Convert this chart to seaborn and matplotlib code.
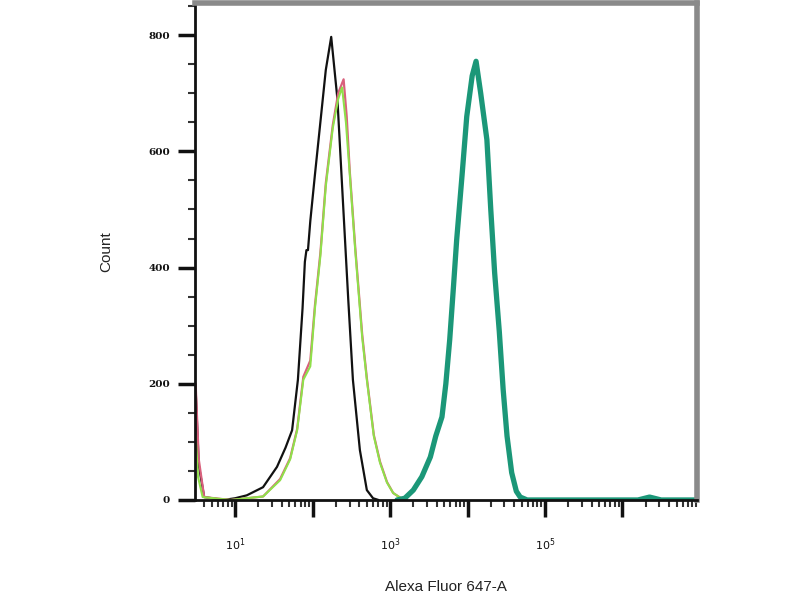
import numpy as np
import pandas as pd
import seaborn as sns
import matplotlib.pyplot as plt
from matplotlib.ticker import FixedLocator, NullFormatter

# Histogram curves: log10(intensity) and count
black_log = [0.49, 0.53, 0.60, 0.85, 1.00, 1.15, 1.36, 1.54, 1.65, 1.735, 1.81, 1.87, 1.90, 1.92,
             1.94, 1.97, 2.03, 2.10, 2.17, 2.24, 2.32, 2.39, 2.46, 2.52, 2.61, 2.70, 2.78, 2.85]
black_count = [190, 60, 5, 0, 3, 8, 22, 57, 90, 120, 207, 330, 410, 430,
               430, 480, 560, 650, 740, 797, 690, 517, 345, 207, 86, 17, 3, 0]

pink_log = [0.49, 0.53, 0.60, 0.94, 1.15, 1.36, 1.58, 1.71, 1.80, 1.88, 1.97, 2.03, 2.10, 2.17,
            2.26, 2.33, 2.40, 2.44, 2.48, 2.55, 2.64, 2.70, 2.79, 2.87, 2.96, 3.04, 3.13, 3.22]
pink_count = [200, 70, 5, 0, 3, 6, 36, 72, 122, 212, 240, 335, 425, 545,
              645, 700, 724, 660, 565, 435, 285, 210, 112, 66, 31, 12, 4, 0]

green_log = [0.49, 0.52, 0.58, 0.94, 1.15, 1.36, 1.58, 1.71, 1.80, 1.88, 1.97, 2.03, 2.10, 2.17,
             2.26, 2.33, 2.38, 2.43, 2.48, 2.55, 2.64, 2.70, 2.79, 2.87, 2.96, 3.04, 3.13, 3.22]
green_count = [110, 40, 5, 0, 3, 6, 34, 70, 120, 207, 230, 330, 420, 540,
               640, 690, 710, 650, 560, 430, 280, 207, 110, 64, 30, 12, 4, 0]

teal_log = [3.09, 3.19, 3.30, 3.41, 3.52, 3.59, 3.67, 3.72, 3.77, 3.82, 3.86, 3.93, 3.99, 4.06,
            4.11, 4.17, 4.25, 4.30, 4.35, 4.41, 4.46, 4.51, 4.57, 4.63, 4.68, 4.77, 5.60, 6.20,
            6.35, 6.50, 6.95]
teal_count = [0, 3, 17, 40, 74, 110, 143, 200, 276, 370, 448, 560, 660, 730,
              755, 700, 620, 500, 391, 290, 190, 110, 47, 15, 5, 0, 0, 0,
              5, 0, 0]

series = [
    ("black", black_log, black_count, "#111111", 1.6),
    ("pink", pink_log, pink_count, "#d9607c", 1.6),
    ("green", green_log, green_count, "#8fe04a", 1.5),
    ("teal", teal_log, teal_count, "#1b9778", 3.8),
]

sns.set_theme(style="white")
fig = plt.figure(figsize=(8, 6), dpi=100)
ax = fig.add_axes([0.244, 0.1667, 0.627, 0.828])

for name, lg, cnt, col, lw in series:
    df = pd.DataFrame({"x": np.power(10.0, lg), "count": cnt})
    sns.lineplot(data=df, x="x", y="count", color=col, linewidth=lw, ax=ax,
                 sort=False, estimator=None)

ax.set_xscale("log")
ax.set_xlim(10 ** 0.484, 10 ** 6.96)
ax.set_ylim(0, 855)

# x ticks: decades with labels on 10^1, 10^3, 10^5
majors = [10.0 ** k for k in range(1, 7)]
minors = [m * 10.0 ** k for k in range(0, 7) for m in range(2, 10)]
ax.xaxis.set_major_locator(FixedLocator(majors))
ax.xaxis.set_minor_locator(FixedLocator(minors))
ax.xaxis.set_minor_formatter(NullFormatter())
ax.set_xticklabels([r"$10^1$", "", r"$10^3$", "", r"$10^5$", ""])

ax.set_yticks([0, 200, 400, 600, 800])
ax.set_yticks(np.arange(50, 851, 50), minor=True)
ax.set_yticklabels(["0", "200", "400", "600", "800"])

ax.tick_params(axis="x", which="major", direction="out", length=12, width=2.5,
               pad=14, labelsize=8, colors="#111111", bottom=True)
ax.tick_params(axis="x", which="minor", direction="out", length=5, width=1.5,
               bottom=True, colors="#333333")
ax.tick_params(axis="y", which="major", direction="out", length=12, width=2.5,
               pad=6, labelsize=7.5, left=True, colors="#111111")
ax.tick_params(axis="y", which="minor", direction="out", length=5, width=1.5,
               left=True, colors="#333333")
for lab in ax.get_yticklabels():
    lab.set_family("DejaVu Serif")
    lab.set_fontweight("bold")

for side in ["left", "bottom"]:
    ax.spines[side].set_color("#111111")
    ax.spines[side].set_linewidth(2)
for side in ["top", "right"]:
    ax.spines[side].set_color("#8a8a8a")
    ax.spines[side].set_linewidth(4)

ax.set_xlabel("Alexa Fluor 647-A", fontsize=11, family="Liberation Sans",
              color="#222222", labelpad=20)
ax.set_ylabel("Count", fontsize=11, family="Liberation Sans",
              color="#222222", labelpad=25)

fig.savefig("out.png", dpi=100)
